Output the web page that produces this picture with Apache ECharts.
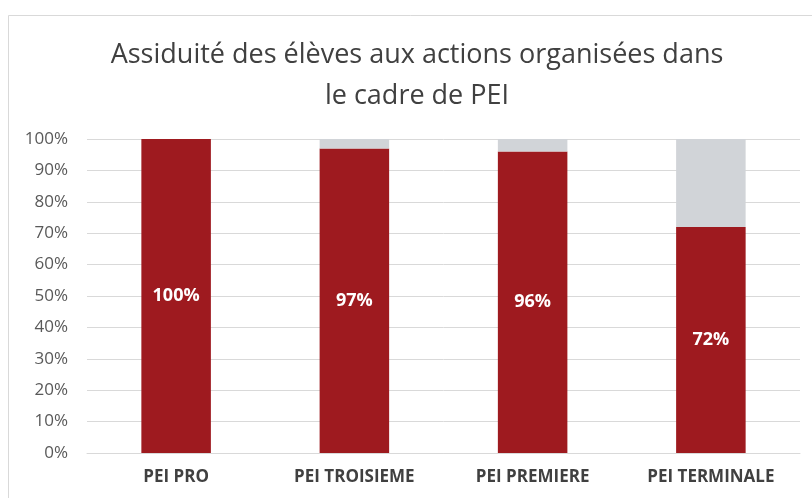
<!DOCTYPE html>
<html>
<head>
<meta charset="utf-8">
<script src="https://cdn.jsdelivr.net/npm/echarts@6/dist/echarts.min.js"></script>
<style>
  html, body { margin: 0; padding: 0; background: #fff; }
  #chart { width: 812px; height: 498px; }
</style>
</head>
<body>
<div id="chart"></div>
<script>
// données
const titleText = 'Assiduité des élèves aux actions organisées dans\nle cadre de PEI';
const categories = ['PEI PRO', 'PEI TROISIEME', 'PEI PREMIERE', 'PEI TERMINALE'];
const presentValues = [100, 97, 96, 72];
const restValues = [0, 3, 4, 28];
const yTicks = [0, 10, 20, 30, 40, 50, 60, 70, 80, 90, 100];

const chart = echarts.init(document.getElementById('chart'));

chart.setOption({
  backgroundColor: '#fff',
  animation: false,
  graphic: [
    {
      type: 'polyline',
      shape: { points: [[8.5, 498], [8.5, 15.5], [812, 15.5]] },
      style: { stroke: '#d9d9d9', lineWidth: 1, fill: null },
    },
    {
      // titre centré un peu à droite, comme dans l'original
      type: 'text',
      x: 417,
      y: 35,
      style: {
        text: titleText,
        textAlign: 'center',
        textVerticalAlign: 'top',
        fontFamily: 'Open Sans',
        fontSize: 27,
        lineHeight: 41,
        fill: '#404040',
      },
    },
  ],
  grid: {
    left: 87,
    right: 12,
    top: 139,
    bottom: 45,
  },
  xAxis: {
    type: 'category',
    data: categories,
    axisTick: { show: false },
    axisLine: { lineStyle: { color: '#d9d9d9' } },
    axisLabel: {
      margin: 16,
      fontFamily: 'Open Sans',
      fontSize: 17,
      fontWeight: 'bold',
      color: '#404040',
    },
  },
  yAxis: {
    type: 'value',
    min: 0,
    max: 100,
    interval: 10,
    axisLine: { show: false },
    axisTick: { show: false },
    splitLine: { lineStyle: { color: '#d9d9d9', width: 1 } },
    axisLabel: {
      margin: 19,
      fontFamily: 'Open Sans',
      fontSize: 17,
      color: '#595959',
      formatter: v => (yTicks.includes(v) ? v + '%' : ''),
    },
  },
  series: [
    {
      name: 'Présents',
      type: 'bar',
      stack: 'total',
      data: presentValues,
      barWidth: '39%',
      itemStyle: { color: '#9e1a1f' },
      label: {
        show: true,
        position: 'inside',
        formatter: p => p.value + '%',
        fontFamily: 'Open Sans',
        fontSize: 18,
        fontWeight: 'bold',
        color: '#fff',
      },
    },
    {
      name: 'Absents',
      type: 'bar',
      stack: 'total',
      data: restValues,
      barWidth: '39%',
      itemStyle: { color: '#d1d4d8' },
    },
  ],
});
</script>
</body>
</html>
